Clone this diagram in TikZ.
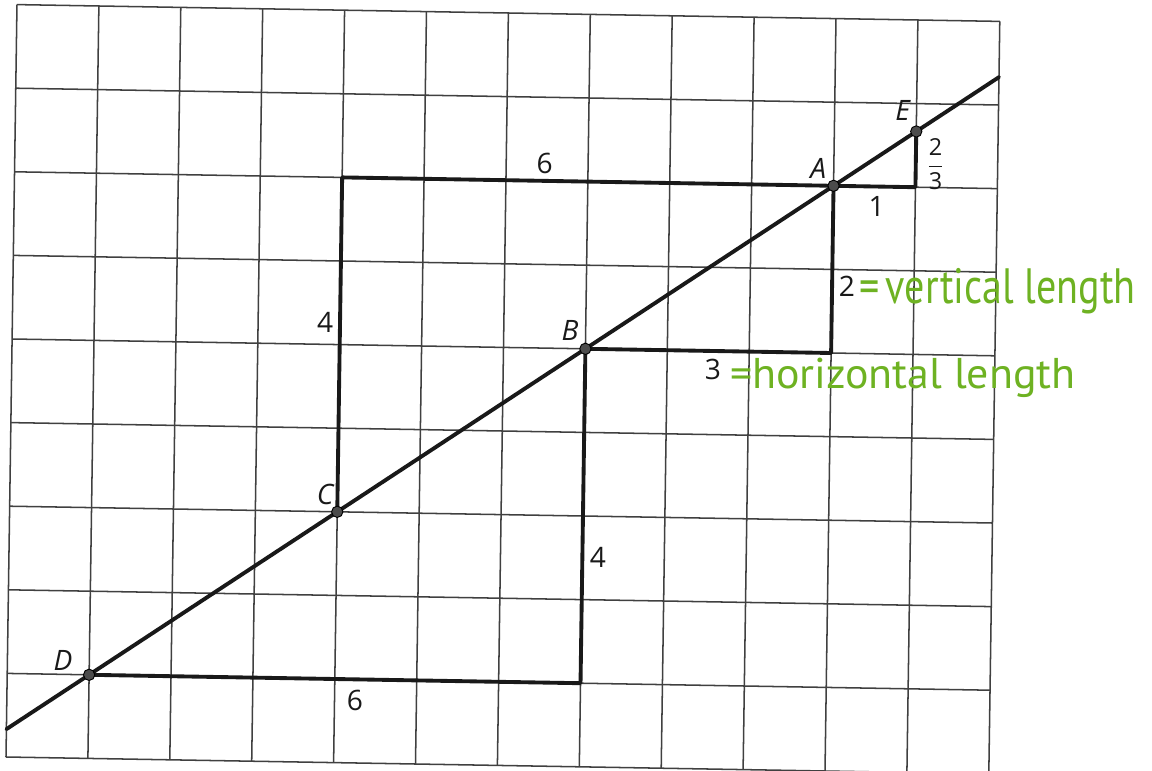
\documentclass[tikz,border=0pt]{standalone}
\usepackage{fontspec}
\setmainfont{Open Sans}
\newfontfamily\handfont{PT Sans}
\usepackage{amsmath}
\definecolor{marker}{RGB}{110,178,34}
\definecolor{gridc}{gray}{0.25}
\definecolor{inkc}{gray}{0.1}
\tikzset{
  gridline/.style={draw=gridc, line width=1.3pt},
  thickline/.style={draw=inkc, line width=3.3pt, line cap=round, line join=round},
  dot/.style={circle, draw=black, fill=gray!60!black, line width=0.8pt, inner sep=0pt, minimum size=0.34cm},
  lbl/.style={inner sep=0pt, font=\fontsize{24}{24}\selectfont, text=inkc},
  ptlbl/.style={inner sep=0pt, font=\fontsize{24}{24}\selectfont\itshape, text=inkc},
  green/.style={inner sep=0pt, text=marker, font=\handfont}
}
\begin{document}
\begin{tikzpicture}
\useasboundingbox (0,0) rectangle (34.56,-23.13);
\fill[white] (0,0) rectangle (34.56,-23.13);
\begin{scope}[shift={(0.18,-22.71)}, x={(2.457cm,-0.042cm)}, y={(0.0366cm,2.508cm)}]
  % grid
  \foreach \i in {0,...,12} \draw[gridline] (\i,0) -- (\i,9);
  \foreach \j in {0,...,9} \draw[gridline] (0,\j) -- (12,\j);
  % helper coordinates
  \coordinate (L0) at (0,0.3333);
  \coordinate (L1) at (12,8.3333);
  \coordinate (P1) at (7,1);
  \coordinate (P2) at (10,5);
  \coordinate (P3) at (4,7);
  \coordinate (P4) at (11,7);
  \coordinate (Dc) at (1,1);
  \coordinate (Cc) at (4,3);
  \coordinate (Bc) at (7,5);
  \coordinate (Ac) at (10,7);
  \coordinate (Ec) at (11,7.6667);
  % thick lines
  \draw[thickline] (L0) -- (L1);
  \draw[thickline] (Dc) -- (P1) -- (Bc);
  \draw[thickline] (Bc) -- (P2) -- (Ac);
  \draw[thickline] (Ac) -- (P3) -- (Cc);
  \draw[thickline] (Ac) -- (P4) -- (Ec);
  % points
  \node[dot] (D) at (Dc) {};
  \node[dot] (C) at (Cc) {};
  \node[dot] (B) at (Bc) {};
  \node[dot] (A) at (Ac) {};
  \node[dot] (E) at (Ec) {};
  % point labels
  \node[ptlbl] (lD) at (0.68,1.17) {D};
  \node[ptlbl] (lC) at (3.85,3.2) {C};
  \node[ptlbl] (lB) at (6.81,5.22) {B};
  \node[ptlbl] (lA) at (9.81,7.21) {A};
  \node[ptlbl] (lE) at (10.83,7.92) {E};
  % length labels
  \node[lbl] (sixT) at (6.47,7.21) {6};
  \node[lbl] (sixB) at (4.25,0.75) {6};
  \node[lbl] (fourL) at (3.82,5.26) {4};
  \node[lbl] (fourR) at (7.19,2.51) {4};
  \node[lbl] (one) at (10.53,6.76) {1};
  \node[lbl] (two) at (10.18,5.8) {2};
  \node[lbl] (three) at (8.56,4.78) {3};
  \node[inner sep=0pt, text=inkc, font=\fontsize{20}{20}\selectfont] (frac) at (11.24,7.28)
    {$\displaystyle\frac{\text{2}}{\text{3}}$};
  % handwritten notes
  \node[green, anchor=base west] (noteV) at (10.33,5.6) {\resizebox{236pt}{30pt}{=\,vertical length}};
  \node[green, anchor=base west] (noteH) at (8.77,4.56) {\resizebox{295pt}{26pt}{=horizontal length}};
\end{scope}
\end{tikzpicture}
\end{document}
